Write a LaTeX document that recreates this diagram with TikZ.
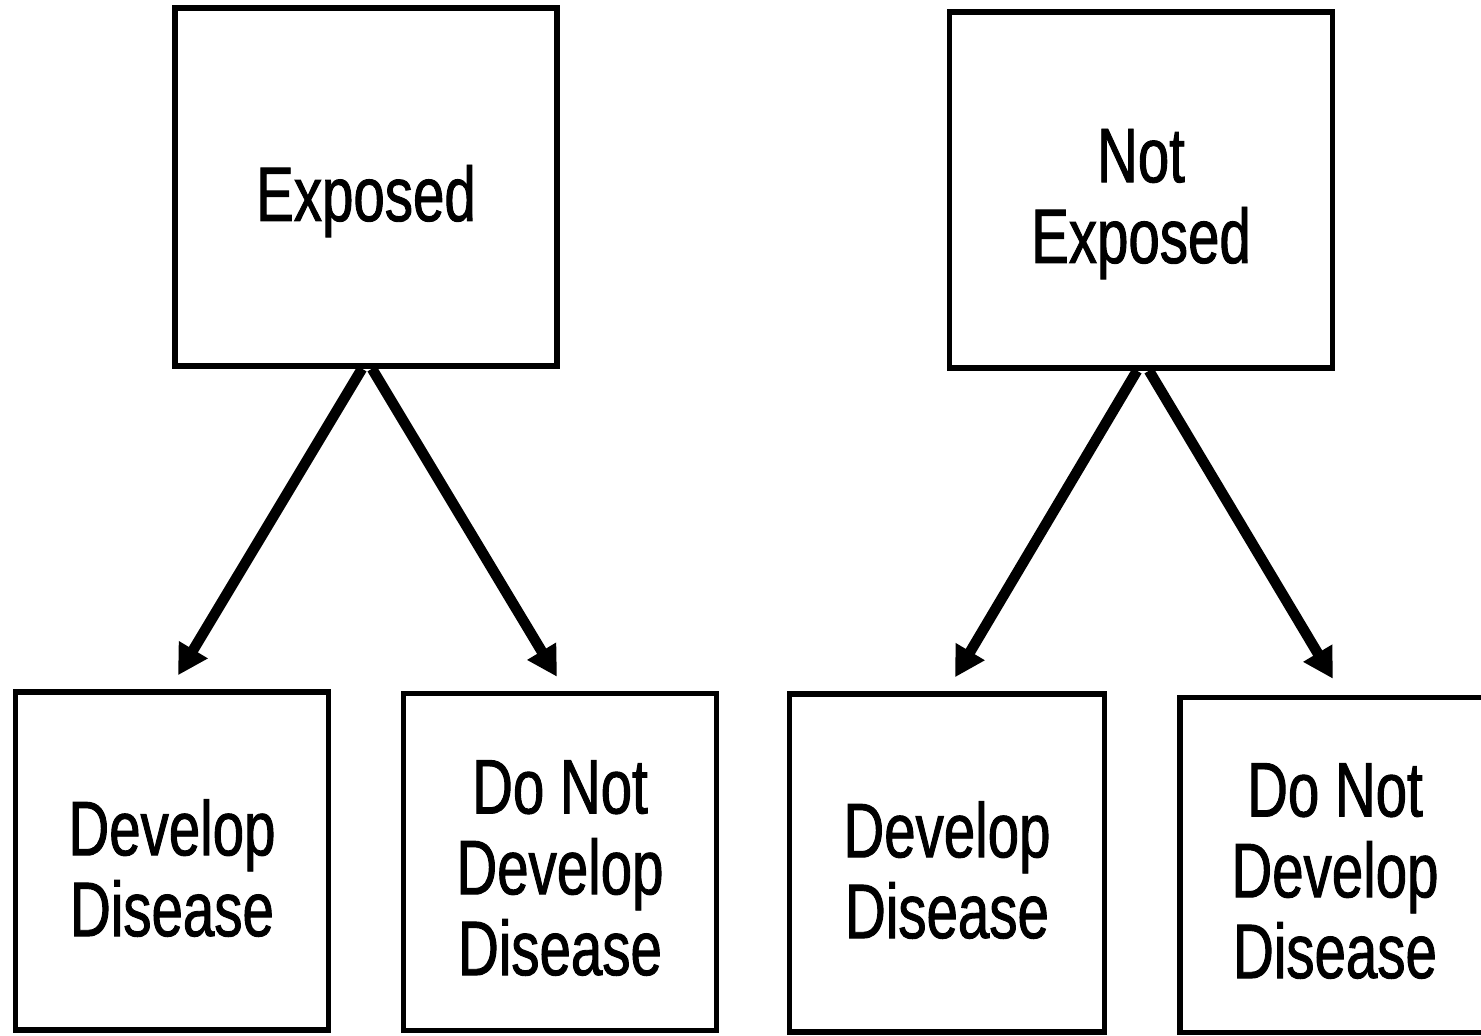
\documentclass[tikz,border=0pt]{standalone}
\usepackage{fontspec}
\setmainfont{Liberation Sans}[FakeStretch=0.73,FakeBold=1.2]
\usetikzlibrary{arrows.meta,calc}
\begin{document}
\begin{tikzpicture}[x=0.02cm,y=-0.02cm,
  box/.style={draw,line width=3.1pt,rectangle,inner sep=0pt},
  txt/.style={inner sep=0pt,align=center,font=\fontsize{44}{46}\selectfont},
  arr/.style={line width=6pt,-{Triangle[length=17pt,width=18pt]}}]
\useasboundingbox (0,0) rectangle (1481,1035);
\node[box,minimum width=382*0.02cm,minimum height=358*0.02cm] (ex) at (366,187) {};
\node[box,minimum width=383*0.02cm,minimum height=356*0.02cm] (nex) at (1141,190) {};
\node[box,minimum width=313*0.02cm,minimum height=338*0.02cm] (dd1) at (172,861) {};
\node[box,minimum width=313*0.02cm,minimum height=337*0.02cm] (dnd1) at (560,862) {};
\node[box,minimum width=315*0.02cm,minimum height=338*0.02cm] (dd2) at (947,863) {};
\node[box,minimum width=310*0.02cm,minimum height=335*0.02cm] (dnd2) at (1335,865) {};
\node[txt] (ex-t) at ($(ex.center)+(0,14)$) {Exposed};
\node[txt] (nex-t) at ($(nex.center)+(0,14)$) {Not\\Exposed};
\node[txt] (dd1-t) at ($(dd1.center)+(0,7)$) {Develop\\Disease};
\node[txt] (dnd1-t) at ($(dnd1.center)+(0,6)$) {Do Not\\Develop\\Disease};
\node[txt] (dd2-t) at ($(dd2.center)+(0,7)$) {Develop\\Disease};
\node[txt] (dnd2-t) at ($(dnd2.center)+(0,6)$) {Do Not\\Develop\\Disease};
\draw[arr] ($(ex.south)+(-4,0)$) -- ($(dd1.north)+(6,-14)$);
\draw[arr] ($(ex.south)+(6,0)$) -- ($(dnd1.north)+(-3,-14)$);
\draw[arr] ($(nex.south)+(-4,0)$) -- ($(dd2.north)+(8,-14)$);
\draw[arr] ($(nex.south)+(8,0)$) -- ($(dnd2.north)+(-2,-16)$);
\end{tikzpicture}
\end{document}
